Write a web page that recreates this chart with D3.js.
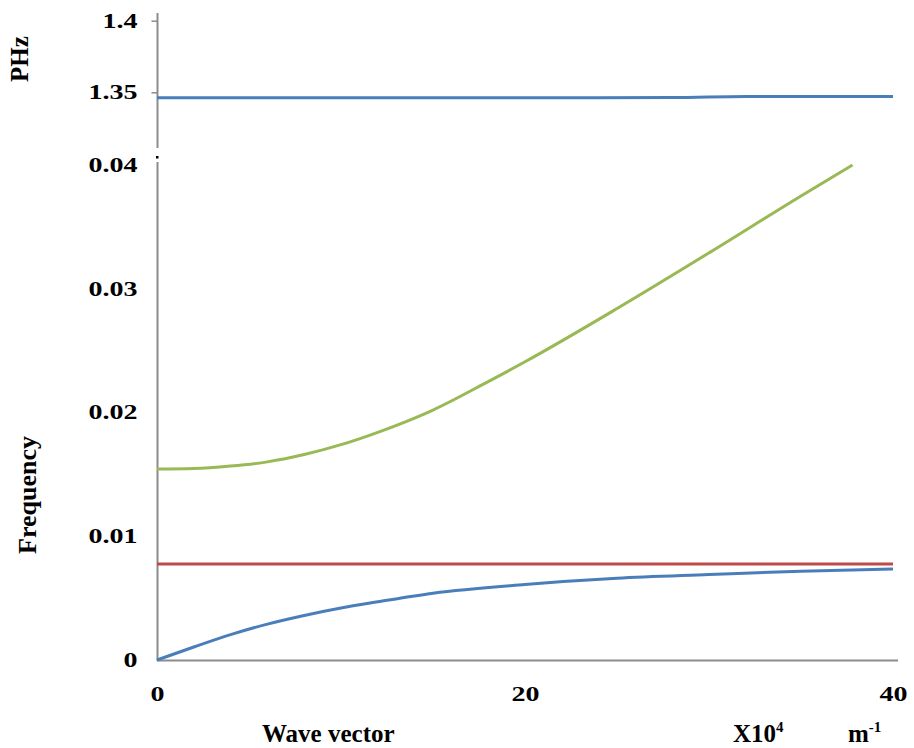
<!DOCTYPE html>
<html>
<head>
<meta charset="utf-8">
<script src="https://cdn.jsdelivr.net/npm/d3@7"></script>
<style>
  body { margin: 0; background: #fff; }
  text { font-family: "Liberation Serif", "Times New Roman", serif; font-weight: bold; fill: #000; }
</style>
</head>
<body>
<svg id="chart" width="914" height="748"></svg>
<script>
// wave vector (x10^4 m^-1)
var kBlue = [0, 2, 4, 6, 8, 10, 12, 15, 20, 25, 30, 35, 40]
var acoustic = [0, 0.00105, 0.00205, 0.0029, 0.0036, 0.0042, 0.0047, 0.0054, 0.0061, 0.0066, 0.0069, 0.00718, 0.00735]

var kGreen = [0, 2, 4, 6, 8, 10, 12, 15, 18, 20, 25, 30, 35, 37.8]
var optical = [0.01543, 0.01547, 0.01567, 0.01601, 0.0166, 0.0174, 0.0184, 0.0202, 0.0225, 0.0241, 0.0284, 0.0329, 0.0375, 0.0400]

var kRed = [0, 40]
var flatMode = [0.00776, 0.00776]

// upper branch (PHz)
var kTop = [0, 10, 20, 28, 32, 40]
var highMode = [1.3462, 1.3462, 1.3462, 1.3463, 1.3471, 1.3471]

var xTicks = [0, 20, 40]
var yTicks = [0, 0.01, 0.02, 0.03, 0.04]
var yTopTicks = [1.35, 1.4]

var svg = d3.select('#chart')

var x = d3.scaleLinear().domain([0, 40]).range([157, 893])
var y = d3.scaleLinear().domain([0, 0.04]).range([660, 165])
var yTop = d3.scaleLinear().domain([1.35, 1.4]).range([92.3, 20.7])

var axisColor = '#8c8c8c'

// axis lines (with break)
svg.append('line').attr('x1', 157.5).attr('x2', 157.5).attr('y1', 13).attr('y2', 148)
    .style('stroke', axisColor).style('stroke-width', 2)
svg.append('line').attr('x1', 157.5).attr('x2', 157.5).attr('y1', 162).attr('y2', 661)
    .style('stroke', axisColor).style('stroke-width', 2)
svg.append('rect').attr('x', 156).attr('y', 156).attr('width', 2.5).attr('height', 2.5).style('fill', '#000')
svg.append('line').attr('x1', 157).attr('x2', 898).attr('y1', 660.5).attr('y2', 660.5)
    .style('stroke', axisColor).style('stroke-width', 2)

// top axis
var gTop = svg.append('g')
    .attr('transform', 'translate(157.5,0)')
    .call(d3.axisLeft(yTop).tickValues(yTopTicks).tickSize(6).tickPadding(14)
        .tickFormat(d3.format('~g')))
gTop.select('.domain').remove()
gTop.selectAll('.tick line').style('stroke', axisColor).style('stroke-width', 1.5)

// lower axis
var gBot = svg.append('g')
    .attr('transform', 'translate(157.5,0)')
    .call(d3.axisLeft(y).tickValues(yTicks).tickSize(0).tickPadding(20)
        .tickFormat(d => d === 0 ? '0' : d3.format('.2f')(d)))
gBot.select('.domain').remove()

// x axis
var gX = svg.append('g')
    .attr('transform', 'translate(0,660)')
    .call(d3.axisBottom(x).tickValues(xTicks).tickSize(0).tickPadding(27))
gX.select('.domain').remove()

svg.selectAll('.tick text')
    .style('font-size', '20px')
    .style('font-family', '"Liberation Serif", serif')
    .style('font-weight', 'bold')
    .style('fill', '#000')
    .each(function() {
        var w = this.getComputedTextLength()
        d3.select(this).attr('textLength', w * 1.4).attr('lengthAdjust', 'spacingAndGlyphs')
    })

// curves
var line = function(xs, ys, ysc, curve) {
    return d3.line()
        .x((d, i) => x(xs[i]))
        .y((d, i) => ysc(ys[i]))
        .curve(curve)(ys)
}

svg.append('path')
    .attr('d', line(kTop, highMode, yTop, d3.curveMonotoneX))
    .style('fill', 'none').style('stroke', '#4a7ebb').style('stroke-width', 3)

svg.append('path')
    .attr('d', line(kRed, flatMode, y, d3.curveLinear))
    .style('fill', 'none').style('stroke', '#be4b48').style('stroke-width', 3)

svg.append('path')
    .attr('d', line(kBlue, acoustic, y, d3.curveMonotoneX))
    .style('fill', 'none').style('stroke', '#4a7ebb').style('stroke-width', 3)

svg.append('path')
    .attr('d', line(kGreen, optical, y, d3.curveMonotoneX))
    .style('fill', 'none').style('stroke', '#98b954').style('stroke-width', 3)

// titles
svg.append('text')
    .attr('transform', 'translate(28,59) rotate(-90)')
    .attr('text-anchor', 'middle')
    .style('font-size', '25px')
    .text('PHz')

svg.append('text')
    .attr('transform', 'translate(36,495) rotate(-90)')
    .attr('text-anchor', 'middle')
    .style('font-size', '26px')
    .text('Frequency')

svg.append('text')
    .attr('x', 262).attr('y', 742)
    .style('font-size', '25px')
    .text('Wave vector')

var t1 = svg.append('text').attr('x', 733).attr('y', 742).style('font-size', '25px')
t1.append('tspan').text('X10')
t1.append('tspan').attr('dy', -10).style('font-size', '15px').text('4')

var t2 = svg.append('text').attr('x', 848).attr('y', 742).style('font-size', '25px')
t2.append('tspan').text('m')
t2.append('tspan').attr('dy', -10).style('font-size', '15px').text('-1')
</script>
</body>
</html>
